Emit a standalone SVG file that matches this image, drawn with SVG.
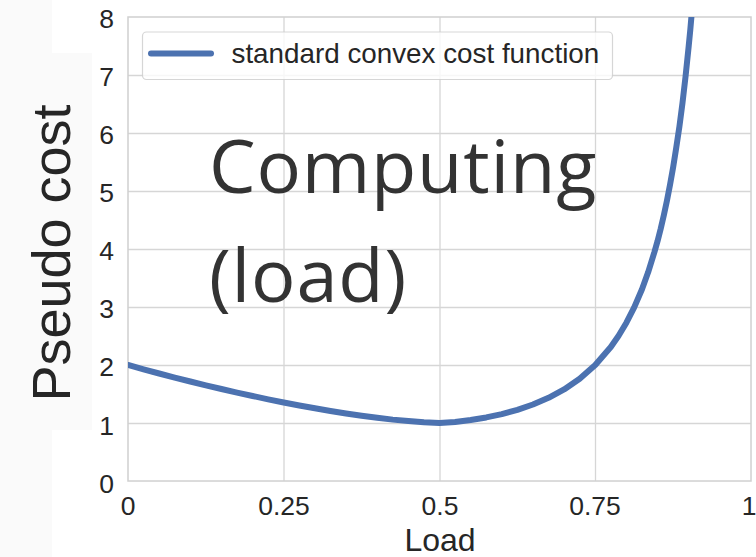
<svg xmlns="http://www.w3.org/2000/svg" width="756" height="557" viewBox="0 0 756 557">
<style>
.grid{stroke:#d6d6d6;stroke-width:1.3;fill:none}
.tick{font-family:"Liberation Sans",Arial,sans-serif;font-size:26.5px;fill:#262626}
.yt{text-anchor:end}
.xt{text-anchor:middle}
.lab{font-family:"Liberation Sans",Arial,sans-serif;fill:#262626}
</style>
<defs>
<clipPath id="plotclip"><rect x="128" y="17" width="623" height="464"/></clipPath>
</defs>
<rect x="0" y="0" width="756" height="557" fill="#ffffff"/>
<rect x="0" y="0" width="52" height="557" fill="#fafafa"/>
<rect x="0" y="53" width="92" height="377" fill="#fafafa"/>
<g id="grid">
<line class="grid" x1="284" y1="17" x2="284" y2="481"/>
<line class="grid" x1="440" y1="17" x2="440" y2="481"/>
<line class="grid" x1="595.5" y1="17" x2="595.5" y2="481"/>
<line class="grid" x1="128" y1="75.5" x2="751" y2="75.5"/>
<line class="grid" x1="128" y1="133.5" x2="751" y2="133.5"/>
<line class="grid" x1="128" y1="191.5" x2="751" y2="191.5"/>
<line class="grid" x1="128" y1="249.5" x2="751" y2="249.5"/>
<line class="grid" x1="128" y1="307.5" x2="751" y2="307.5"/>
<line class="grid" x1="128" y1="365.5" x2="751" y2="365.5"/>
<line class="grid" x1="128" y1="423.5" x2="751" y2="423.5"/>
<rect x="128" y="17" width="623" height="464" fill="none" stroke="#d0d0d0" stroke-width="1.5"/>
</g>
<g id="yticks">
<text class="tick yt" x="114" y="28">8</text>
<text class="tick yt" x="114" y="86">7</text>
<text class="tick yt" x="114" y="144">6</text>
<text class="tick yt" x="114" y="202">5</text>
<text class="tick yt" x="114" y="260">4</text>
<text class="tick yt" x="114" y="318">3</text>
<text class="tick yt" x="114" y="376">2</text>
<text class="tick yt" x="114" y="435">1</text>
<text class="tick yt" x="114" y="493">0</text>
</g>
<g id="xticks">
<text class="tick xt" x="128" y="515">0</text>
<text class="tick xt" x="284" y="515">0.25</text>
<text class="tick xt" x="440" y="515">0.5</text>
<text class="tick xt" x="595" y="515">0.75</text>
<text class="tick xt" x="749" y="515">1</text>
</g>
<g id="xlabel"><text class="lab" x="440" y="551" font-size="32" text-anchor="middle">Load</text></g>
<g id="ylabel"><text class="lab" transform="translate(70,253) rotate(-90)" font-size="54" text-anchor="middle">Pseudo cost</text></g>
<g id="curve" clip-path="url(#plotclip)">
<path fill="none" stroke="#4c72b0" stroke-width="6" stroke-linejoin="round" stroke-linecap="round" d="M128,365 L143.58,369.3 L159.15,373.5 L174.73,377.55 L190.3,381.5 L205.88,385.33 L221.45,389 L237.03,392.61 L252.6,396 L268.18,399.34 L283.75,402.5 L299.33,405.49 L314.9,408.3 L330.48,410.99 L346.05,413.5 L361.63,415.75 L377.2,417.8 L392.78,419.63 L408.35,421.1 L423.93,422.35 L439.5,423 L455.08,421.91 L470.65,420 L486.23,417.42 L501.8,414.1 L517.38,409.84 L532.95,404.5 L548.53,397.85 L564.1,389.4 L579.68,378.76 L595.25,365 L610.8,347 L618.6,335.8 L626.4,322.7 L634.2,307.4 L642,289.3 L648.2,272.1 L654.4,252.1 L657.6,240.9 L660.7,228.8 L663.8,215.4 L666.9,200.9 L670,184.9 L673.1,167.4 L676.2,148.1 L679.4,126.6 L682.5,102.8 L685.6,76 L688.7,46.1 L690.3,29.8 L691.8,12.4 L694.9,-26.2"/>
</g>
<g id="legend">
<rect x="142.5" y="32" width="470" height="47.5" rx="4" ry="4" fill="#ffffff" fill-opacity="0.8" stroke="#cccccc" stroke-opacity="0.8" stroke-width="1.2"/>
<line x1="151" y1="53.5" x2="211" y2="53.5" stroke="#4c72b0" stroke-width="6" stroke-linecap="round"/>
<text class="lab" x="231.5" y="63.3" font-size="27.8">standard convex cost function</text>
</g>
<g id="annotation" font-family="'Open Sans','Noto Sans',sans-serif" font-size="74" fill="#333333" letter-spacing="0.8">
<text x="209" y="192.7">Computing</text>
<text x="209" y="301.7">(load)</text>
</g>
</svg>
